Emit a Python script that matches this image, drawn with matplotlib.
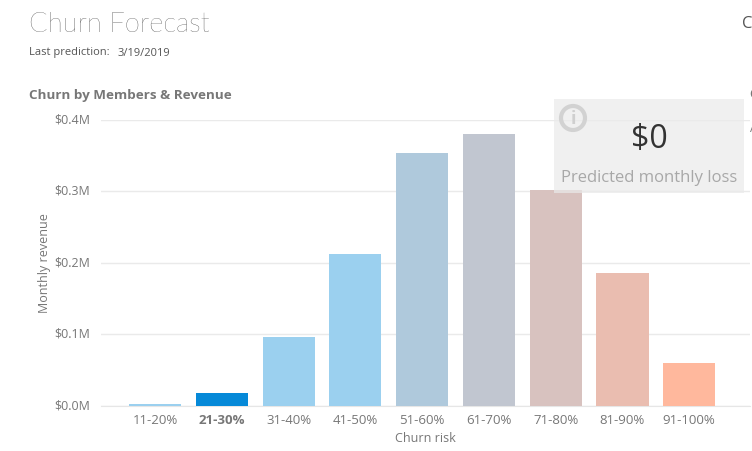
import matplotlib
matplotlib.use("Agg")
import matplotlib.pyplot as plt
from matplotlib.patches import Rectangle, Circle

categories = ["11-20%", "21-30%", "31-40%", "41-50%", "51-60%", "61-70%", "71-80%", "81-90%", "91-100%"]
revenue_m = [0.002, 0.0175, 0.096, 0.212, 0.354, 0.380, 0.302, 0.185, 0.060]
bar_colors = ["#9bd0ef", "#0689d8", "#9bd0ef", "#9bd0ef", "#afc9dc", "#c1c6d0", "#d8c2bf", "#eabdb0", "#ffb89d"]
y_ticks = [0.0, 0.1, 0.2, 0.3, 0.4]
y_labels = ["$0.0M", "$0.1M", "$0.2M", "$0.3M", "$0.4M"]

plt.rcParams["font.family"] = ["Open Sans", "DejaVu Sans"]
W, H = 752, 451
fig = plt.figure(figsize=(W / 100, H / 100), dpi=100, facecolor="white")

left, right, top, bottom = 101, 750, 120, 405.5
ax = fig.add_axes([left / W, 1 - bottom / H, (right - left) / W, (bottom - top) / H])
ax.bar(range(len(categories)), revenue_m, width=0.78, color=bar_colors, zorder=3)
ax.set_xlim(-0.81, 8.91)
ax.set_ylim(0, 0.4)
ax.set_yticks(y_ticks, y_labels)
ax.set_xticks(range(len(categories)), categories)
ax.grid(axis="y", color="#eaeaea", lw=1, zorder=0)
ax.grid(axis="x", visible=False)
ax.tick_params(length=0, labelcolor="#777777")
ax.tick_params(axis="x", labelsize=9.5, pad=6)
ax.tick_params(axis="y", labelsize=9, pad=8)
for lbl in ax.get_yticklabels():
    lbl.set_verticalalignment("center")
ax.get_xticklabels()[1].set_fontweight("bold")
for s in ["top", "right", "left"]:
    ax.spines[s].set_visible(False)
ax.spines["bottom"].set_color("#e6e6e6")
ax.set_xlabel("Churn risk", fontsize=9, color="#777777", labelpad=3.5)
ax.set_ylabel("Monthly revenue", fontsize=9, color="#777777", labelpad=2)

ov = fig.add_axes([0, 0, 1, 1], facecolor="none", zorder=5)
ov.set_xlim(0, W)
ov.set_ylim(H, 0)
ov.axis("off")
ov.text(29, 24, "Churn Forecast", fontsize=19.7, color="#222222", family=["Lato"], fontweight="light", va="center")
ov.text(29, 53, "Last prediction:", fontsize=8, color="#555555", va="center")
ov.text(118, 53.5, "3/19/2019", fontsize=8, color="#555555", va="center")
ov.text(29, 95.5, "Churn by Members & Revenue", fontsize=9.7, color="#777777", fontweight="bold", va="center")
ov.add_patch(Rectangle((554, 99), 190, 94, fc="#eaeaea", ec="none", alpha=0.7))
ov.add_patch(Circle((573, 118), 12, fc="none", ec="#d2d2d2", lw=3))
ov.text(573, 119, "i", fontsize=13, color="#cfcfcf", fontweight="bold", ha="center", va="center")
ov.text(649, 139, "$0", fontsize=23, color="#333333", ha="center", va="center")
ov.text(649, 178, "Predicted monthly loss", fontsize=12, color="#a8a8a8", ha="center", va="center")
ov.text(742, 24, "C", fontsize=12, color="#555555", va="center", clip_on=True)
ov.text(749.5, 95, "C", fontsize=9, color="#777777", va="center", fontweight="bold", clip_on=True)
ov.text(749.5, 128, "A", fontsize=9, color="#777777", va="center", clip_on=True)

fig.savefig("out.png", dpi=100)
